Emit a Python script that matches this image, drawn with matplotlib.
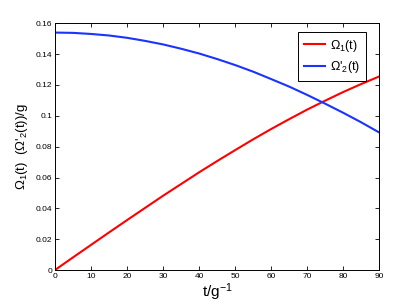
import matplotlib
matplotlib.use('Agg')
import matplotlib.pyplot as plt

plt.rcParams['font.family'] = ['Liberation Sans', 'DejaVu Sans']
plt.rcParams['mathtext.default'] = 'regular'

# values
t = [0, 5, 10, 15, 20, 25, 30, 35, 40, 45, 50, 55, 60, 65, 70, 75, 80, 85, 90]
omega1 = [0.0, 0.0082, 0.0163, 0.0244, 0.0324, 0.0403, 0.0482, 0.0558, 0.0634, 0.0707,
          0.0778, 0.0848, 0.0915, 0.0979, 0.1041, 0.1099, 0.1155, 0.1207, 0.1256]
omega2p = [0.1540, 0.1538, 0.1531, 0.1521, 0.1506, 0.1486, 0.1463, 0.1435, 0.1404, 0.1368,
           0.1329, 0.1286, 0.1238, 0.1189, 0.1135, 0.1078, 0.1019, 0.0957, 0.0891]
xticks = list(range(0, 91, 10))
yticks = [0, 0.02, 0.04, 0.06, 0.08, 0.1, 0.12, 0.14, 0.16]
yticklabels = ['0', '0.02', '0.04', '0.06', '0.08', '0.1', '0.12', '0.14', '0.16']

fig = plt.figure(figsize=(4.19, 3.04), dpi=100)
ax = fig.add_axes([0.1313, 0.1118, 0.7744, 0.8115])

ax.plot(t, omega1, color='#ff0000', lw=1.5, label=r'$\Omega_1$(t)')
ax.plot(t, omega2p, color='#1a33ff', lw=1.5, label=r"$\Omega$'$_2$(t)")

ax.set_xlim(0, 90)
ax.set_ylim(0, 0.16)
ax.set_xticks(xticks)
ax.set_yticks(yticks)
ax.set_yticklabels(yticklabels)
ax.tick_params(direction='in', top=True, right=True, labelsize=6, length=3, width=0.6, pad=2)
for s in ax.spines.values():
    s.set_linewidth(0.7)

ax.set_xlabel(r'$t/g^{-1}$', fontsize=11, labelpad=1)
ax.set_ylabel(r"$\Omega_1$(t)  ($\Omega$'$_2$(t))/g", fontsize=9.5, labelpad=4)

leg = ax.legend(loc='upper right', bbox_to_anchor=(0.958, 0.965), fontsize=9,
                fancybox=False, edgecolor='black', handlelength=1.7, handletextpad=0.4,
                borderaxespad=0, framealpha=1, borderpad=0.45, labelspacing=0.45)
leg.get_frame().set_linewidth(0.7)

fig.savefig('out.png', dpi=100)
